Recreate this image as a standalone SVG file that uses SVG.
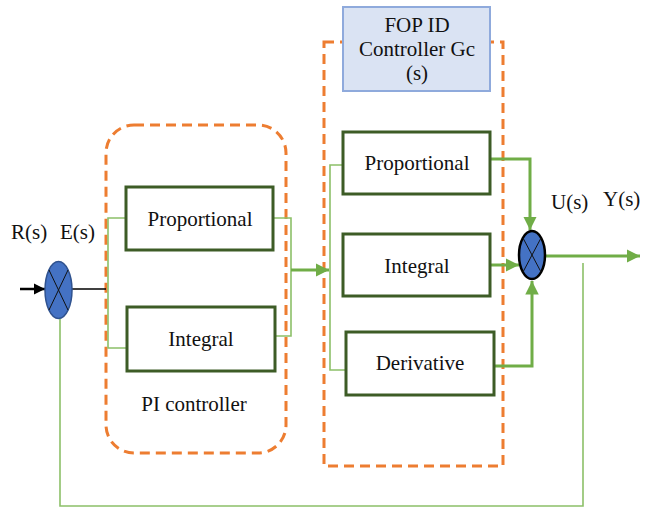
<svg xmlns="http://www.w3.org/2000/svg" width="653" height="508" viewBox="0 0 653 508" font-family="'Liberation Serif', 'DejaVu Serif', serif">
<style>
text{font-family:'Liberation Serif','DejaVu Serif',serif;font-size:21px;fill:#111}
.dash{fill:none;stroke:#ed7d31;stroke-width:3;stroke-dasharray:10 6}
.blk{fill:#fff;stroke:#3d5c26;stroke-width:3}
.t{text-anchor:middle}
.thin{fill:none;stroke:#8cc068;stroke-width:1.6}
.thick{fill:none;stroke:#70ad47;stroke-width:3}
.sum{fill:#4472c4}
.x{stroke:#111;stroke-width:1}
</style>
<defs>
<marker id="ga" viewBox="0 0 10 10" refX="10" refY="5" markerWidth="4.5" markerHeight="4.5" orient="auto" markerUnits="strokeWidth">
<path d="M0,0 L10,5 L0,10 z" fill="#70ad47"/>
</marker>
<marker id="ba" viewBox="0 0 10 10" refX="10" refY="5" markerWidth="4.5" markerHeight="4.5" orient="auto" markerUnits="strokeWidth">
<path d="M0,0 L10,5 L0,10 z" fill="#000"/>
</marker>
</defs>

<g id="pi-group">
<rect class="dash" x="106" y="125" width="180" height="328" rx="28"/>
<text class="t" x="194" y="411">PI controller</text>
</g>
<g id="fopid-group">
<rect class="dash" x="324" y="42" width="179" height="424"/>
</g>
<g id="fopid-label">
<rect x="343" y="7" width="147" height="84" fill="#dae3f3" stroke="#8faadc" stroke-width="2"/>
<text class="t" x="417" y="32">FOP ID</text>
<text class="t" x="417" y="56">Controller Gc</text>
<text class="t" x="417" y="80">(s)</text>
</g>

<g id="connectors">
<line x1="20" y1="289" x2="45" y2="289" stroke="#000" stroke-width="2.5" marker-end="url(#ba)"/>
<line x1="72" y1="289" x2="106" y2="289" stroke="#000" stroke-width="1.3"/>
<path class="thin" d="M126,218 H108 V348 H126"/>
<path class="thin" d="M273,218 H291 V336 H275"/>
<line class="thick" x1="291" y1="270" x2="329" y2="270" marker-end="url(#ga)"/>
<path class="thin" d="M343,165 H330 V370 H346"/>
<path class="thick" d="M490,159 H530 V230" marker-end="url(#ga)"/>
<line class="thick" x1="490" y1="265" x2="519" y2="265" marker-end="url(#ga)"/>
<path class="thick" d="M494,366 H532 V281" marker-end="url(#ga)"/>
<line class="thick" x1="545" y1="256" x2="640" y2="256" marker-end="url(#ga)"/>
<path class="thin" d="M583,263 V506 H60 V319"/>
</g>

<g id="sum1">
<ellipse class="sum" cx="58.5" cy="290" rx="13.5" ry="28.5" stroke="#2f528f" stroke-width="1.5"/>
<line class="x" x1="49" y1="270" x2="68" y2="310"/>
<line class="x" x1="68" y1="270" x2="49" y2="310"/>
</g>
<g id="sum2">
<ellipse class="sum" cx="532" cy="255" rx="13" ry="24" stroke="#000" stroke-width="2.5"/>
<line class="x" x1="523" y1="238" x2="541" y2="272"/>
<line class="x" x1="541" y1="238" x2="523" y2="272"/>
</g>

<g id="pi-prop"><rect class="blk" x="126" y="187" width="147" height="63"/><text class="t" x="200" y="226">Proportional</text></g>
<g id="pi-int"><rect class="blk" x="127" y="307" width="148" height="64"/><text class="t" x="201" y="346">Integral</text></g>
<g id="f-prop"><rect class="blk" x="343" y="132" width="147" height="62"/><text class="t" x="417" y="170">Proportional</text></g>
<g id="f-int"><rect class="blk" x="343" y="234" width="147" height="62"/><text class="t" x="417" y="273">Integral</text></g>
<g id="f-der"><rect class="blk" x="346" y="332" width="148" height="63"/><text class="t" x="420" y="370">Derivative</text></g>

<g id="labels">
<text x="11" y="239">R(s)</text>
<text x="60" y="239">E(s)</text>
<text x="551" y="209">U(s)</text>
<text x="603" y="206">Y(s)</text>
</g>
</svg>
